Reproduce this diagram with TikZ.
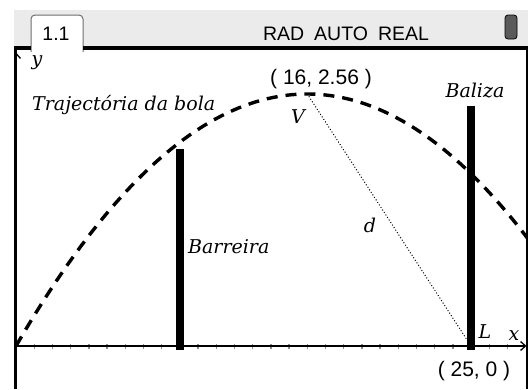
\documentclass[tikz,border=0pt]{standalone}
\usepackage{fontspec}
\setsansfont{Liberation Sans}
\newfontfamily\tiserif{DejaVu Serif}
\usetikzlibrary{arrows.meta,positioning}
\definecolor{tibar}{HTML}{EBEBEB}
\definecolor{titab}{HTML}{6E6E6E}
\definecolor{tibatt}{HTML}{5A5A5A}
\definecolor{titick}{HTML}{8C8C8C}
\tikzset{
  statustxt/.style = {font=\sffamily\fontsize{19.5}{22}\selectfont, inner sep=0pt},
  coordlbl/.style  = {font=\sffamily\fontsize{21}{24}\selectfont, inner sep=0pt},
  lbl/.style       = {font=\tiserif\itshape\fontsize{19}{22}\selectfont,
                      inner sep=0pt},
  axis/.style      = {draw=black, line width=1.3pt,
                      -{Straight Barb[length=5pt,width=9pt]}},
  tickmark/.style  = {draw=titick, line width=1.4pt},
  post/.style      = {draw=black, line width=7.5pt},
  ball/.style      = {draw=black, line width=3.4pt, dash pattern=on 11pt off 8pt},
  dist/.style      = {draw=black, line width=1pt, dash pattern=on 1pt off 2pt},
}

\begin{document}
\begin{tikzpicture}[x=1pt, y=-1pt]

  \useasboundingbox (0,0) rectangle (528,389);
  \fill[white] (0,0) rectangle (528,389);

  % ---- status bar -------------------------------------------------------
  \fill[tibar] (14,10) rectangle (528,48);
  \draw[titab, fill=white, rounded corners=4pt, line width=1pt]
    (31,52) -- (31,15) -- (83,15) -- (83,52);
  \draw[line width=4pt] (14,48) -- (31,48);
  \draw[line width=4pt] (83,48) -- (528,48);
  \node[statustxt, anchor=base] (tabnum) at (56,40.5) {1.1};
  \node[statustxt, anchor=base] (mode) at (346,40.5)
    {RAD\hspace{10pt}AUTO\hspace{10pt}REAL};
  \draw[fill=tibatt, rounded corners=3pt, line width=0.8pt]
    (505,15) rectangle (517,39);

  % ---- screen frame -----------------------------------------------------
  \draw[line width=3pt] (15,48) -- (15,389);
  \draw[line width=1.2pt] (527,48) -- (527,389);

  % ---- graph ------------------------------------------------------------
  \begin{scope}
    \clip (14,50) rectangle (527,389);
    \begin{scope}[shift={(16pt,-346pt)}, x=18.2pt, y=98.5pt]
      \coordinate (O)    at (0,0);
      \coordinate (xend) at (28.05,0);
      \coordinate (yend) at (0,2.98);
      \coordinate (V)    at (16,2.56);
      \coordinate (L)    at (25,0);
      \coordinate (barB) at (9,-0.04);
      \coordinate (barT) at (9,2);
      \coordinate (balB) at (25,-0.04);
      \coordinate (balT) at (25,2.44);

      \foreach \i in {1,...,27}
        \draw[tickmark] (\i,0) +(0,-2.5pt) -- +(0,2.5pt);
      \draw[axis] (O) -- (xend);
      \draw[axis] (O) -- (yend);
      \draw[dist] (V) -- (L);
      \draw[post] (barB) -- (barT);
      \draw[post] (balB) -- (balT);
      \draw[ball] plot[domain=0:28.6, samples=90] (\x, {0.01*\x*(32-\x)});
    \end{scope}
  \end{scope}

  % ---- labels -----------------------------------------------------------
  \node[lbl, anchor=base] (lbly) at (37,65) {y};
  \node[lbl, anchor=base] (lblx) at (514,340) {x};
  \node[lbl, anchor=base west] (traj) at (32,110) {Trajectória da bola};
  \node[lbl, anchor=base] (baliza) at (475,97) {Baliza};
  \node[lbl, anchor=base west] (barreira) at (188,253) {Barreira};
  \node[lbl, anchor=base] (lblV) at (298,123) {V};
  \node[lbl, anchor=base] (lblL) at (485,338) {L};
  \node[lbl, anchor=base] (lbld) at (370,232) {d};
  \node[coordlbl] (vcoord) at (321,79) {( 16, 2.56 )};
  \node[coordlbl] (lcoord) at (474,371) {( 25, 0 )};

\end{tikzpicture}
\end{document}
